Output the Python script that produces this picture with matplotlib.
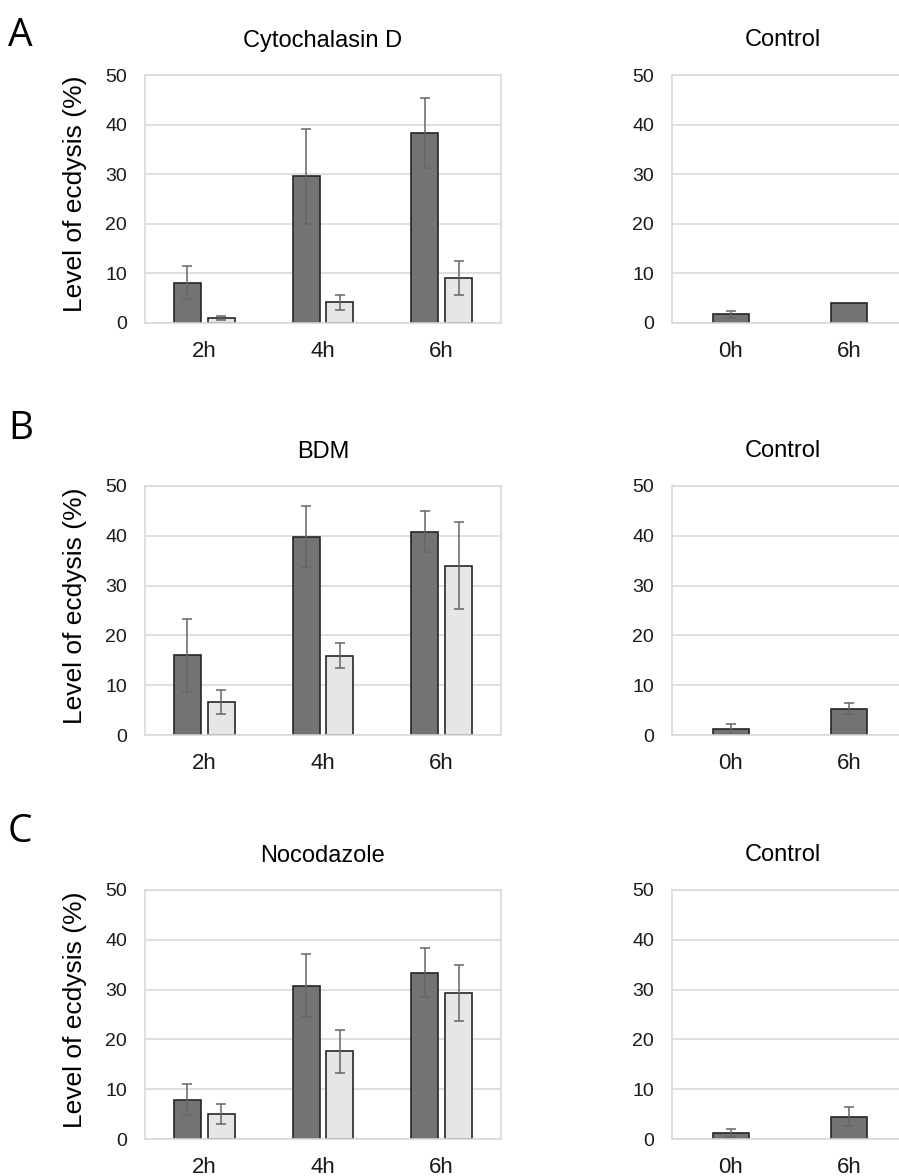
import numpy as np
import matplotlib.pyplot as plt

plt.rcParams['font.family'] = ['Liberation Sans', 'DejaVu Sans']

times = ['2h', '4h', '6h']
ctrl_times = ['0h', '6h']

# treated (dark) and recovery (light) series, means and error
cyto_dark = [8.1, 29.6, 38.3]
cyto_dark_err = [3.3, 9.6, 7.1]
cyto_light = [1.1, 4.2, 9.0]
cyto_light_err = [0.4, 1.5, 3.4]
cyto_ctrl = [1.8, 4.0]
cyto_ctrl_err = [0.7, 0]

bdm_dark = [16.0, 39.8, 40.8]
bdm_dark_err = [7.3, 6.1, 4.1]
bdm_light = [6.7, 15.9, 34.0]
bdm_light_err = [2.4, 2.5, 8.7]
bdm_ctrl = [1.3, 5.3]
bdm_ctrl_err = [1.0, 1.1]

noco_dark = [7.9, 30.8, 33.4]
noco_dark_err = [3.1, 6.4, 4.9]
noco_light = [5.0, 17.6, 29.3]
noco_light_err = [2.0, 4.3, 5.7]
noco_ctrl = [1.2, 4.5]
noco_ctrl_err = [0.8, 1.9]

W, H = 899, 1176
fig = plt.figure(figsize=(W / 100, H / 100), dpi=100)

dark = '#737373'
light = '#e6e6e6'
edge = '#262626'
errc = '#666666'
grid = '#d9d9d9'

# letter, title, data..., axes top px, axes bottom px, letter baseline px
panels = [
    ('A', 'Cytochalasin D', cyto_dark, cyto_dark_err, cyto_light, cyto_light_err, cyto_ctrl, cyto_ctrl_err, 75, 323, 46),
    ('B', 'BDM', bdm_dark, bdm_dark_err, bdm_light, bdm_light_err, bdm_ctrl, bdm_ctrl_err, 486, 735, 439),
    ('C', 'Nocodazole', noco_dark, noco_dark_err, noco_light, noco_light_err, noco_ctrl, noco_ctrl_err, 890, 1139, 842),
]


def style(ax):
    ax.set_ylim(0, 50)
    ax.set_yticks([0, 10, 20, 30, 40, 50])
    ax.yaxis.grid(True, color=grid, linewidth=1.2)
    ax.set_axisbelow(True)
    for s in ax.spines.values():
        s.set_color(grid)
        s.set_linewidth(1.2)
    ax.tick_params(length=0, labelsize=14, colors='#1a1a1a', pad=13)
    ax.tick_params(axis='x', labelsize=16, pad=13)


for letter, title, d, de, l, le, c, ce, top, bot, ly in panels:
    b = 1 - bot / H
    h = (bot - top) / H
    ax = fig.add_axes([145 / W, b, 356 / W, h])
    x = np.arange(len(times))
    ax.bar(x - 0.143, d, 0.228, color=dark, edgecolor=edge, linewidth=1.2,
           yerr=de, error_kw=dict(ecolor=errc, elinewidth=1.1, capsize=3.5, capthick=1.1))
    ax.bar(x + 0.143, l, 0.228, color=light, edgecolor=edge, linewidth=1.2,
           yerr=le, error_kw=dict(ecolor=errc, elinewidth=1.1, capsize=3.5, capthick=1.1))
    ax.set_xlim(-0.5, 2.5)
    ax.set_xticks(x)
    ax.set_xticklabels(times)
    style(ax)
    ax.set_ylabel('Level of ecdysis (%)', fontsize=19)
    ax.yaxis.set_label_coords(-58 / 356, 0.52)
    ax.set_title(title, fontsize=17, pad=20)

    ax2 = fig.add_axes([672 / W, b, 227 / W, h])
    xc = np.arange(len(ctrl_times))
    errs = [e if e > 0 else np.nan for e in ce]
    ax2.bar(xc, c, 0.31, color=dark, edgecolor=edge, linewidth=1.2,
            yerr=errs, error_kw=dict(ecolor=errc, elinewidth=1.1, capsize=3.5, capthick=1.1))
    ax2.set_xlim(-0.5, 1.424)
    ax2.set_xticks(xc)
    ax2.set_xticklabels(ctrl_times)
    style(ax2)
    ax2.spines['right'].set_visible(False)
    ax2.text(0.49, 1 + 20 / (bot - top) + 0.015, 'Control', transform=ax2.transAxes,
             ha='center', va='bottom', fontsize=17)

    fig.text(8 / W, 1 - ly / H, letter, fontsize=28, family=['Open Sans', 'DejaVu Sans'],
             va='baseline', ha='left')

fig.savefig('out.png', dpi=100)
